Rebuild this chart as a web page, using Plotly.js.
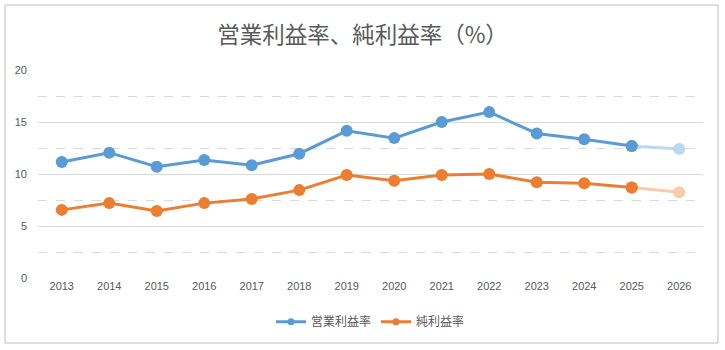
<!DOCTYPE html>
<html><head><meta charset="utf-8">
<script src="https://cdn.plot.ly/plotly-3.0.1.min.js"></script>
<style>body{margin:0;background:#fff}#c{width:725px;height:350px}</style>
</head><body><div id="c"></div>
<script>
const years = ['2013','2014','2015','2016','2017','2018','2019','2020','2021','2022','2023','2024','2025','2026'];
const operatingMargin = [11.15, 12.05, 10.7, 11.35, 10.85, 11.95, 14.15, 13.45, 15.0, 15.95, 13.9, 13.35, 12.7, 12.4];
const netMargin = [6.55, 7.2, 6.45, 7.2, 7.6, 8.45, 9.9, 9.35, 9.9, 10.0, 9.2, 9.1, 8.7, 8.25];
const seriesNames = ['営業利益率', '純利益率'];
const forecastFrom = 12; // index of last actual year (2025)

const blue = '#5B9BD5', orange = '#ED7D31';
const lblue = '#BDD7EE', lorange = '#F8CBAD';

function actual(arr){ return arr.slice(0, forecastFrom + 1); }
function fc(arr){ return arr.slice(forecastFrom); }

const traces = [
  {x: fc(years), y: fc(operatingMargin), type:'scatter', mode:'lines+markers', showlegend:false, hoverinfo:'skip',
   line:{color:lblue, width:3}, marker:{color:[blue, lblue], size:12}},
  {x: fc(years), y: fc(netMargin), type:'scatter', mode:'lines+markers', showlegend:false, hoverinfo:'skip',
   line:{color:lorange, width:3}, marker:{color:[orange, lorange], size:12}},
  {x: actual(years), y: actual(operatingMargin), name: seriesNames[0], type:'scatter', mode:'lines+markers', showlegend:false,
   line:{color:blue, width:3}, marker:{color:blue, size:12}},
  {x: actual(years), y: actual(netMargin), name: seriesNames[1], type:'scatter', mode:'lines+markers', showlegend:false,
   line:{color:orange, width:3}, marker:{color:orange, size:12}},
  // legend entries (smaller symbols like the reference)
  {x:[null], y:[null], name: seriesNames[0], type:'scatter', mode:'lines+markers', line:{color:blue, width:3}, marker:{color:blue, size:7}},
  {x:[null], y:[null], name: seriesNames[1], type:'scatter', mode:'lines+markers', line:{color:orange, width:3}, marker:{color:orange, size:7}}
];

const layout = {
  width:725, height:350,
  margin:{l:38, r:22, t:70, b:72},
  paper_bgcolor:'#fff', plot_bgcolor:'#fff',
  font:{family:'"Noto Sans CJK JP", "Liberation Sans", sans-serif', color:'#595959', size:11},
  title:{text:'営業利益率、純利益率（%）', x:0.5, xanchor:'center', y:0.9, yanchor:'middle', yref:'container',
         font:{size:22.5, color:'#595959', family:'"Noto Sans CJK JP", sans-serif'}},
  xaxis:{type:'category', categoryorder:'array', categoryarray:years, range:[-0.5, 13.5],
         showgrid:false, zeroline:false, showline:false, ticks:'', tickfont:{size:11, color:'#595959', family:'"Liberation Sans", sans-serif'}},
  yaxis:{range:[0,20], dtick:5, tick0:0, showgrid:true, gridcolor:'#d9d9d9', gridwidth:1, zeroline:false, showline:false, ticks:'',
         tickfont:{size:11, color:'#595959', family:'"Liberation Sans", sans-serif'}, ticklabelstandoff:10,
         minor:{dtick:2.5, tick0:0, showgrid:true, gridcolor:'#d9d9d9', griddash:'dash', gridwidth:1}},
  legend:{orientation:'h', x:0.5, xanchor:'center', y:-0.21, yanchor:'middle', font:{size:12, color:'#595959'},
          traceorder:'normal', itemwidth:30},
  shapes:[{type:'rect', xref:'paper', yref:'paper', x0:(5-38)/665, x1:(718-38)/665, y0:(278-343)/208, y1:(278-5)/208,
           line:{color:'#bfbfbf', width:1}, fillcolor:'rgba(0,0,0,0)', layer:'below'}],
  showlegend:true
};
Plotly.newPlot('c', traces, layout, {displayModeBar:false, staticPlot:true});
</script></body></html>
